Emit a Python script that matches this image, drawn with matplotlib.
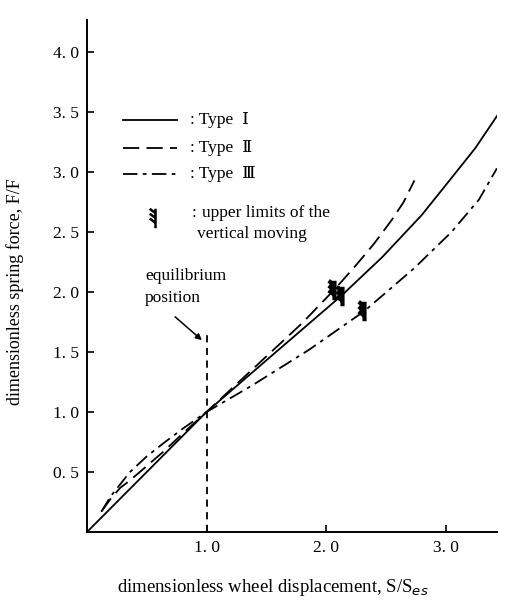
import matplotlib
matplotlib.use("Agg")
import matplotlib.pyplot as plt
from matplotlib.path import Path

plt.rcParams['font.family'] = ['Liberation Serif', 'DejaVu Serif']

# ---- data ----
type1_x = [0.0, 0.5, 1.0, 1.5, 2.13, 2.47, 2.8, 3.05, 3.25, 3.46]
type1_y = [0.0, 0.5, 1.0, 1.43, 1.97, 2.29, 2.64, 2.95, 3.2, 3.51]

type2_x = [0.12, 0.2, 0.28, 0.36, 0.5, 0.64, 0.8, 1.0, 1.4, 1.8, 2.07, 2.24, 2.4, 2.55, 2.65, 2.74]
type2_y = [0.17, 0.28, 0.37, 0.43, 0.55, 0.67, 0.82, 1.0, 1.37, 1.74, 2.02, 2.21, 2.4, 2.6, 2.75, 2.93]

type3_x = [0.12, 0.2, 0.36, 0.5, 0.64, 0.8, 1.0, 1.38, 1.86, 2.32, 2.74, 3.05, 3.28, 3.43]
type3_y = [0.17, 0.3, 0.5, 0.63, 0.74, 0.86, 1.0, 1.22, 1.52, 1.84, 2.2, 2.5, 2.77, 3.03]

limit_x = [2.07, 2.13, 2.32]
limit_y = [2.02, 1.97, 1.84]

equilibrium_x = 1.0
equilibrium_top = 1.68

xticks = [1.0, 2.0, 3.0]
xtick_labels = ['1. 0', '2. 0', '3. 0']
yticks = [0.5, 1.0, 1.5, 2.0, 2.5, 3.0, 3.5, 4.0]
ytick_labels = ['0. 5', '1. 0', '1. 5', '2. 0', '2. 5', '3. 0', '3. 5', '4. 0']

legend_labels = [': Type  Ⅰ', ': Type  Ⅱ', ': Type  Ⅲ']

# ---- figure ----
W, H = 506, 602
fig = plt.figure(figsize=(W / 100, H / 100), dpi=100)
left_px, bottom_px, right_px, top_px = 87, 532, 497, 20
ax = fig.add_axes([left_px / W, (H - bottom_px) / H,
                   (right_px - left_px) / W, (bottom_px - top_px) / H])
ax.set_xlim(0, (right_px - left_px) / 119.5)
ax.set_ylim(0, (bottom_px - top_px) / 120.0)

for s in ['top', 'right']:
    ax.spines[s].set_visible(False)
for s in ['left', 'bottom']:
    ax.spines[s].set_linewidth(1.4)

ax.set_xticks(xticks)
ax.set_xticklabels(xtick_labels)
ax.set_yticks(yticks)
ax.set_yticklabels(ytick_labels)
ax.tick_params(direction='in', length=5, width=1.2, labelsize=12.5, pad=6)

lw = 1.3
ls2 = (0, (9, 4))
ls3 = (0, (8, 3, 2, 3))
ax.plot(type1_x, type1_y, color='black', lw=lw, solid_capstyle='butt')
ax.plot(type2_x, type2_y, color='black', lw=lw, linestyle=ls2)
ax.plot(type3_x, type3_y, color='black', lw=lw, linestyle=ls3)

# feather-like marker for upper limits
verts = [(0, -1), (0, 1),
         (0, 0.55), (-0.6, 1.0),
         (0, 0.05), (-0.6, 0.5),
         (0, -0.45), (-0.6, 0.0)]
codes = [Path.MOVETO, Path.LINETO,
         Path.MOVETO, Path.LINETO,
         Path.MOVETO, Path.LINETO,
         Path.MOVETO, Path.LINETO]
feather = Path(verts, codes)
ax.plot(limit_x, limit_y, linestyle='none', marker=feather, markersize=14,
        markeredgewidth=3.0, markeredgecolor='black', markerfacecolor='none')

# equilibrium line
ax.plot([equilibrium_x, equilibrium_x], [0, equilibrium_top], color='black',
        lw=1.3, linestyle=(0, (4, 3)))

# legend (drawn manually)
def px(x):
    return (x - left_px) / 119.5

def py(y):
    return (bottom_px - y) / 120.0

leg_rows = [120, 148, 174]
styles = ['-', ls2, ls3]
for yy, st, lab in zip(leg_rows, styles, legend_labels):
    ax.plot([px(123), px(177)], [py(yy), py(yy)], color='black', lw=lw, linestyle=st)
    ax.text(px(190), py(yy), lab, fontsize=12.5, va='center', ha='left')

ax.plot([px(155)], [py(218)], linestyle='none', marker=feather, markersize=14,
        markeredgewidth=1.8, markeredgecolor='black', markerfacecolor='none')
ax.text(px(192), py(213), ':', fontsize=12.5, va='center', ha='left')
ax.text(px(202), py(213), 'upper limits of the', fontsize=12.5, va='center', ha='left')
ax.text(px(197), py(234), 'vertical moving', fontsize=12.5, va='center', ha='left')

ax.text(px(145), py(287), 'equilibrium\nposition', fontsize=12.5, va='center',
        ha='left', linespacing=1.5)
ax.annotate('', xy=(px(204), py(342)), xytext=(px(173), py(315)),
            arrowprops=dict(arrowstyle='-|>', color='black', lw=1.1,
                            mutation_scale=9))

fig.text(273 / W, 1 - 587 / H, 'dimensionless wheel displacement, S/S$_{es}$',
         fontsize=13.5, ha='center', va='center')
fig.text(15 / W, 1 - 292 / H, 'dimensionless spring force, F/F',
         fontsize=13, ha='center', va='center', rotation=90)

fig.savefig('out.png', dpi=100)
